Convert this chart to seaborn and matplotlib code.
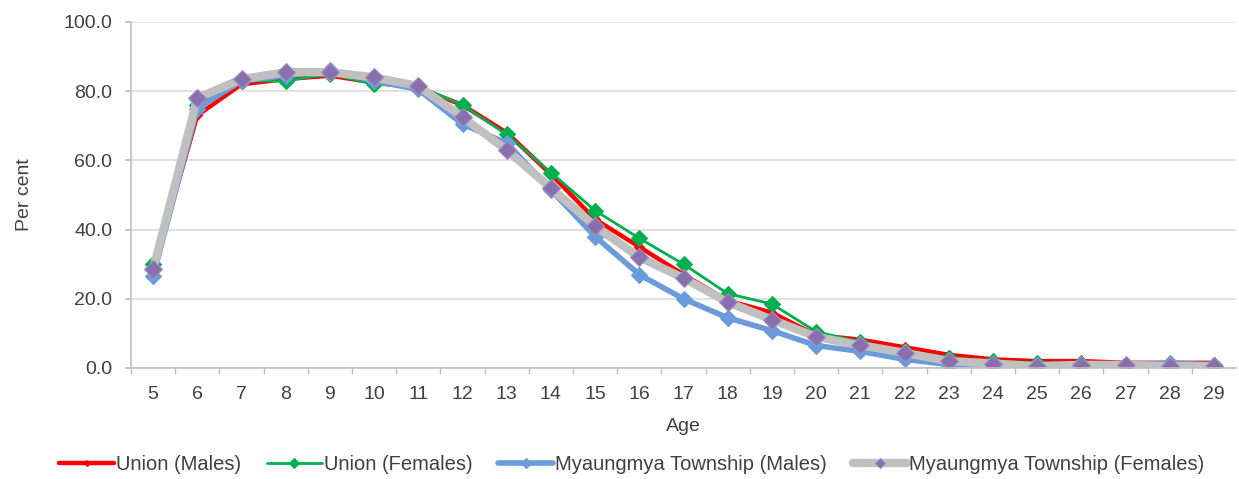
import matplotlib
matplotlib.use("Agg")
import matplotlib.pyplot as plt
import seaborn as sns
import pandas as pd

ages = list(range(5, 30))
union_males = [28, 73, 82, 83.5, 84.5, 82.5, 81, 76, 68, 56, 43, 35, 27, 19.5, 16, 9.5, 8.2, 6, 3.8, 2.5, 2, 2, 1.5, 1.5, 1.5]
union_females = [30, 76, 83, 83, 85, 82, 81.5, 76, 67.5, 56.5, 45.5, 37.5, 30, 21.5, 18.5, 10.5, 7.5, 5, 3, 2, 1.5, 1.5, 1, 1, 1]
myg_males = [26.5, 75, 83, 84.5, 86, 83, 80.5, 70.5, 65, 51.5, 38, 27, 20, 14.5, 10.8, 6.5, 4.8, 2.5, 1, 1, 1, 1, 1, 1.4, 1]
myg_females = [28.5, 78, 83.5, 85.5, 85.5, 84, 81.5, 72.5, 63, 52, 41, 32, 26, 19, 14, 9, 6.6, 4.4, 2, 1.3, 0.5, 0.9, 0.9, 0.5, 0.5]
series_names = ["Union (Males)", "Union (Females)", "Myaungmya Township (Males)", "Myaungmya Township (Females)"]

sns.set_theme(style="white")
plt.rcParams['font.family'] = ['Liberation Sans', 'DejaVu Sans']

fig = plt.figure(figsize=(12.39, 4.79), dpi=100)
ax = fig.add_axes([131/1239, 1-368/479, 1105/1239, 346/479])

styles = [
    dict(color="#FF0000", lw=3.2, marker="D", ms=5, mfc="#FF0000", mec="#FF0000"),
    dict(color="#00B050", lw=2.0, marker="D", ms=8, mfc="#00B050", mec="#00B050"),
    dict(color="#6A9BDB", lw=4.0, marker="D", ms=8, mfc="#6A9BDB", mec="#6A9BDB"),
    dict(color="#C0C0C0", lw=6.0, marker="D", ms=9, mfc="#8A6FAE", mec="#A090C0"),
]
data = [union_males, union_females, myg_males, myg_females]
for name, vals, st in zip(series_names, data, styles):
    df = pd.DataFrame({"Age": ages, "Per cent": vals})
    sns.lineplot(data=df, x="Age", y="Per cent", ax=ax, color=st["color"], lw=st["lw"],
                 marker=st["marker"], markersize=st["ms"], markerfacecolor=st["mfc"],
                 markeredgecolor=st["mec"], markeredgewidth=0.8, label=name)

ax.set_xlim(4.5, 29.5)
ax.set_ylim(0, 100)
ax.set_yticks([0, 20, 40, 60, 80, 100])
ax.set_yticklabels([f"{v:.1f}" for v in [0, 20, 40, 60, 80, 100]])
ax.set_xticks(ages)
ax.set_xticklabels([str(a) for a in ages])
ax.set_xticks([a + 0.5 for a in range(4, 29)], minor=True)
ax.grid(axis="y", color="#D9D9D9", lw=1.1)
ax.set_axisbelow(True)
for s in ["top", "right"]:
    ax.spines[s].set_visible(False)
for s in ["left", "bottom"]:
    ax.spines[s].set_color("#BFBFBF")
    ax.spines[s].set_linewidth(1.2)
ax.tick_params(axis="y", which="major", length=4.5, color="#BFBFBF", labelsize=14, labelcolor="#404040", left=True, pad=9)
ax.tick_params(axis="x", which="major", length=0, labelsize=14, labelcolor="#404040", pad=13)
ax.tick_params(axis="x", which="minor", length=4.5, color="#BFBFBF", bottom=True)
ax.set_xlabel("Age", fontsize=14, color="#404040", labelpad=11)
ax.set_ylabel("Per cent", fontsize=14, color="#404040", labelpad=22)

handles, labels = ax.get_legend_handles_labels()
ax.legend_.remove()
fig.legend(handles, labels, loc="center", bbox_to_anchor=(0.51, 1-465/479), ncol=4, frameon=False,
           fontsize=14.5, handlelength=2.7, columnspacing=1.3, handletextpad=0.1, labelcolor="#404040",
           markerscale=0.6)

fig.savefig("out.png", dpi=100)
